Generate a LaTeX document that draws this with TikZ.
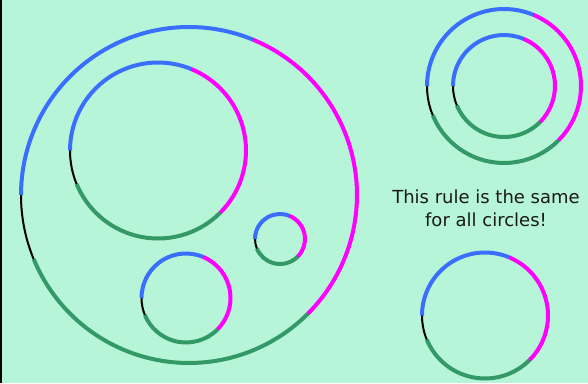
\documentclass[tikz,border=0pt]{standalone}
\usepackage{fontspec}
\setmainfont{DejaVu Sans}
\usepackage{xcolor}
\usepackage{tikz}
\usetikzlibrary{positioning}

\definecolor{bgmint}{RGB}{182,245,216}
\definecolor{ruleblue}{RGB}{58,110,255}
\definecolor{rulepink}{RGB}{255,0,255}
\definecolor{rulegreen}{RGB}{51,153,102}

\tikzset{
  arcpart/.style={line width=4pt},
  arcbase/.style={black, line width=2pt}
}

\begin{document}
\begin{tikzpicture}[x=1pt, y=1pt]
  \useasboundingbox (0, 0) rectangle (588, 383);
  % Background
  \fill[bgmint] (0, 0) rectangle (588, 383);
  \draw[black, line width=2pt] (1, 0) -- (1, 383);

  % Circles: centre x / centre y / radius
  \foreach \cx/\cy/\r in {189/188/168, 158/232.5/88, 280/144/25, 186/85/44.5,
                          504/297/77, 504/297/51, 485/67.5/63} {
    \draw[arcbase] (\cx, \cy) circle (\r);
    \draw[arcpart, ruleblue] ([shift={(180:\r)}]\cx, \cy) arc (180:67.5:\r);
    \draw[arcpart, rulepink] ([shift={(67.5:\r)}]\cx, \cy) arc (67.5:-45:\r);
    \draw[arcpart, rulegreen] ([shift={(-45:\r)}]\cx, \cy) arc (-45:-157.5:\r);
  }

  % Note
  \node[font=\fontsize{18}{23}\selectfont, text=black!90, align=center, inner sep=0pt]
    (note) at (486, 174.8) {This rule is the same\\for all circles!};

\end{tikzpicture}
\end{document}
